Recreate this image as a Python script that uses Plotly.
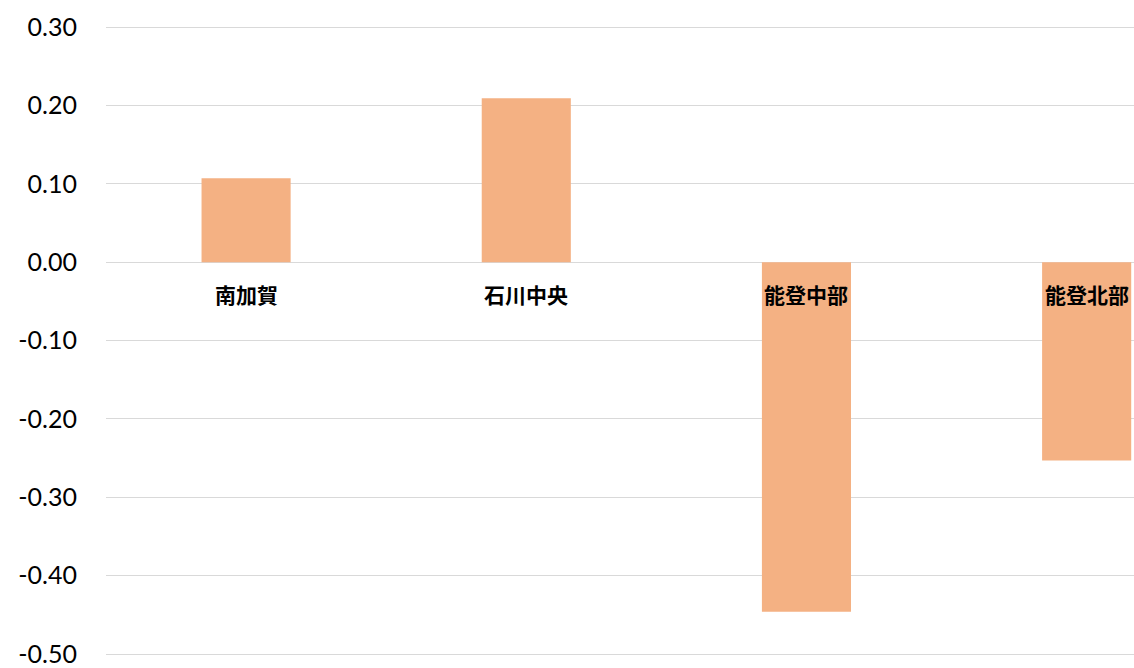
import plotly.graph_objects as go

categories = ["南加賀", "石川中央", "能登中部", "能登北部"]
values = [0.107, 0.209, -0.446, -0.253]
tick_vals = [0.3, 0.2, 0.1, 0.0, -0.1, -0.2, -0.3, -0.4, -0.5]
tick_text = ["0.30", "0.20", "0.10", "0.00", "-0.10", "-0.20", "-0.30", "-0.40", "-0.50"]

bar_color = "#F4B183"
grid_color = "#D9D9D9"

fig = go.Figure()
fig.add_trace(go.Bar(
    x=list(range(len(categories))),
    y=values,
    marker=dict(color=bar_color, line=dict(width=0)),
    hoverinfo="skip",
))

for i, c in enumerate(categories):
    fig.add_annotation(
        x=i, y=0, xref="x", yref="y",
        text=c, showarrow=False,
        yanchor="middle", xanchor="center", yshift=-32,
        font=dict(family="Noto Sans CJK JP", size=21, color="#000000", weight="bold"),
    )

fig.update_layout(
    width=1134, height=668,
    margin=dict(l=106, r=0, t=24, b=11),
    plot_bgcolor="white", paper_bgcolor="white",
    bargap=0.682,
    showlegend=False,
    xaxis=dict(
        range=[-0.5, 3.169],
        showticklabels=False, showgrid=False, zeroline=False,
        showline=False, ticks="",
    ),
    yaxis=dict(
        range=[-0.50383, 0.30383],
        tickvals=tick_vals, ticktext=tick_text,
        showgrid=True, gridcolor=grid_color, gridwidth=1,
        zeroline=True, zerolinecolor=grid_color, zerolinewidth=1,
        showline=False, ticks="",
        ticklabelstandoff=28,
        tickfont=dict(family="Lato", size=25, color="#000000"),
    ),
)

fig.write_html("out.html", config={"displayModeBar": False},
               post_script="document.body.style.margin='0';")
